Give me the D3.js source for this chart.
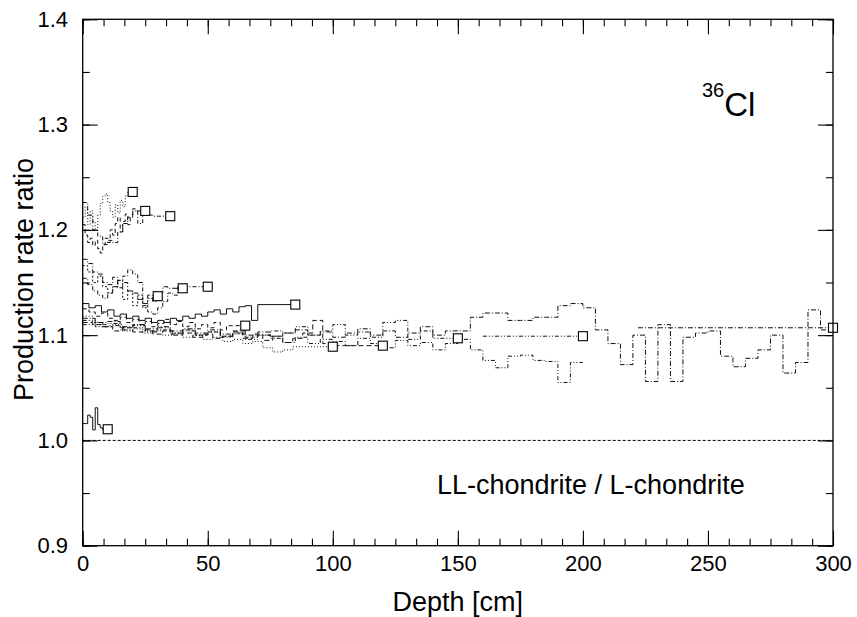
<!DOCTYPE html>
<html>
<head>
<meta charset="utf-8">
<script src="https://cdnjs.cloudflare.com/ajax/libs/d3/7.8.5/d3.min.js"></script>
<style>
  body { margin: 0; background: #fff; }
  text { font-family: "Liberation Sans", Arial, Helvetica, sans-serif; fill: #000; }
</style>
</head>
<body>
<div id="chart"></div>
<script>
var width = 857, height = 617;

// x axis ticks (depth, cm) and y axis ticks (ratio)
var depthTicks = [0, 50, 100, 150, 200, 250, 300];
var ratioTicks = [0.9, 1.0, 1.1, 1.2, 1.3, 1.4];

// one curve per meteoroid radius; marker sits at depth = radius
var radii      = [10, 20, 25, 30, 35, 40, 50, 65, 85, 100, 120, 150, 200, 300];
var binWidth   = [1, 1, 1, 2, 2, 2, 2, 2.5, 2.5, 4, 4, 5, 5, 5];
var markRatio  = [1.0106, 1.236, 1.218, 1.137, 1.213, 1.1445, 1.146, 1.109, 1.129, 1.089, 1.090, 1.097, 1.099, 1.107];
var tailStart  = [null, null, null, null, 28, 34, 40, 60, 70, 88, 100, 140, 160, 222];

var vals10  = [1.016, 1.016, 1.024, 1.022, 1.010, 1.031, 1.015, 1.012, 1.010, 1.010];
var vals20  = [1.212, 1.222, 1.205, 1.218, 1.208, 1.200, 1.214, 1.225, 1.232, 1.234, 1.226, 1.218, 1.212, 1.224, 1.216, 1.228, 1.222, 1.232, 1.236, 1.236];
var vals25  = [1.205, 1.195, 1.188, 1.192, 1.185, 1.190, 1.182, 1.178, 1.186, 1.192, 1.188, 1.200, 1.195, 1.206, 1.212, 1.198, 1.208, 1.215, 1.205, 1.212, 1.220, 1.218, 1.218, 1.218, 1.218];
var vals30  = [1.166, 1.160, 1.150, 1.156, 1.146, 1.140, 1.146, 1.152, 1.134, 1.142, 1.128, 1.138, 1.126, 1.135, 1.137];
var vals35  = [1.226, 1.214, 1.200, 1.194, 1.186, 1.190, 1.188, 1.198, 1.206, 1.212, 1.218, 1.206, 1.220, 1.214];
var vals40  = [1.172, 1.168, 1.160, 1.158, 1.150, 1.148, 1.155, 1.145, 1.150, 1.142, 1.140, 1.134, 1.130, 1.138, 1.132, 1.140, 1.146];
var vals50  = [1.154, 1.148, 1.142, 1.138, 1.135, 1.140, 1.146, 1.152, 1.156, 1.162, 1.158, 1.150, 1.128, 1.122, 1.120, 1.126, 1.132, 1.140, 1.138, 1.146];
var vals65  = [1.125, 1.122, 1.118, 1.121, 1.116, 1.114, 1.117, 1.112, 1.115, 1.110, 1.113, 1.108, 1.111, 1.115, 1.110, 1.113, 1.108, 1.112, 1.106, 1.110, 1.107, 1.112, 1.105, 1.109];
var vals85  = [1.130, 1.126, 1.128, 1.122, 1.124, 1.118, 1.120, 1.116, 1.118, 1.114, 1.116, 1.112, 1.114, 1.112, 1.116, 1.114, 1.118, 1.116, 1.120, 1.118, 1.122, 1.124, 1.120, 1.125, 1.122, 1.127, 1.128, 1.114];
var vals100 = [1.118, 1.112, 1.108, 1.110, 1.104, 1.106, 1.102, 1.104, 1.100, 1.102, 1.098, 1.100, 1.096, 1.098, 1.094, 1.096, 1.092, 1.094, 1.088, 1.084, 1.086, 1.089];
var vals120 = [1.112, 1.110, 1.108, 1.104, 1.107, 1.103, 1.105, 1.101, 1.104, 1.100, 1.102, 1.098, 1.101, 1.097, 1.099, 1.103, 1.097, 1.101, 1.095, 1.099, 1.093, 1.097, 1.102, 1.114, 1.092];
var vals150 = [1.110, 1.108, 1.109, 1.105, 1.107, 1.103, 1.105, 1.101, 1.104, 1.100, 1.103, 1.099, 1.102, 1.098, 1.100, 1.104, 1.102, 1.108, 1.100, 1.104, 1.110, 1.100, 1.103, 1.098, 1.112, 1.114, 1.096, 1.104];
var vals200 = [1.114, 1.110, 1.111, 1.107, 1.109, 1.104, 1.107, 1.102, 1.105, 1.100, 1.103, 1.098, 1.101, 1.096, 1.100, 1.097,
               1.093, 1.098, 1.092, 1.096, 1.094, 1.090, 1.097, 1.092, 1.088, 1.095, 1.090, 1.093, 1.086, 1.092, 1.096,
               1.086, 1.076, 1.069, 1.080, 1.081, 1.076, 1.075, 1.055, 1.074];
var vals300 = [1.116, 1.112, 1.113, 1.108, 1.110, 1.106, 1.108, 1.104, 1.106, 1.102, 1.105, 1.101, 1.104, 1.100, 1.103,
               1.099, 1.102, 1.105, 1.100, 1.103, 1.098, 1.102, 1.106, 1.100, 1.104, 1.098, 1.102, 1.108, 1.100, 1.104,
               1.104, 1.117, 1.121, 1.121, 1.114, 1.114, 1.117, 1.117, 1.128, 1.130, 1.126,
               1.105, 1.092, 1.072, 1.100, 1.056, 1.110, 1.056, 1.098, 1.102, 1.104, 1.080, 1.070, 1.078, 1.086,
               1.100, 1.064, 1.074, 1.124, 1.105];
var curveVals = [vals10, vals20, vals25, vals30, vals35, vals40, vals50, vals65, vals85, vals100, vals120, vals150, vals200, vals300];

var dashes = ["none", "1,2", "4,3", "2,2", "4,2,1,2", "5,2,1,2", "4,2,1,2", "4,3", "none", "1,2", "5,3", "4,2,1,2,1,2", "4,2,1,2,1,2", "5,2,1,2"];

var padL = 82.7, padR = 833, padT = 19.3, padB = 545.7;

var svg = d3.select('#chart')
    .append('svg')
    .attr('width', width)
    .attr('height', height);

svg.append('rect').attr('width', width).attr('height', height).attr('fill', '#fff');

var x = d3.scaleLinear().domain([0, 300]).range([padL, padR]);
var y = d3.scaleLinear().domain([0.9, 1.4]).range([padB, padT]);

var series = radii.map(function(r, i){
  return {R: r, w: binWidth[i], mark: markRatio[i], tail: tailStart[i], vals: curveVals[i], dash: dashes[i]};
});

// reference line at ratio 1
svg.append('line')
    .attr('x1', x(0)).attr('x2', x(300))
    .attr('y1', y(1.0)).attr('y2', y(1.0))
    .attr('stroke', '#000')
    .attr('stroke-width', 1)
    .attr('stroke-dasharray', '3,2');

var line = d3.line()
    .x(function(d){ return x(d[0]); })
    .y(function(d){ return y(d[1]); });

function stepPoints(s){
  var p = [];
  s.vals.forEach(function(v, i){
    p.push([i * s.w, v], [(i + 1) * s.w, v]);
  });
  var end = s.vals.length * s.w;
  if (s.tail == null || Math.abs(s.tail - end) < 1e-6) {
    p.push([end, s.mark], [s.R, s.mark]);
  }
  return p;
}

var g = svg.append('g');

series.forEach(function(s){
  g.append('path')
    .attr('d', line(stepPoints(s)))
    .attr('fill', 'none')
    .attr('stroke', '#111')
    .attr('stroke-width', 1)
    .attr('stroke-dasharray', s.dash);
  var end = s.vals.length * s.w;
  if (s.tail != null && Math.abs(s.tail - end) > 1e-6) {
    // connecting segment that overlaps the histogram
    g.append('path')
      .attr('d', line([[s.tail, s.mark], [s.R, s.mark]]))
      .attr('fill', 'none')
      .attr('stroke', '#111')
      .attr('stroke-width', 1)
      .attr('stroke-dasharray', s.dash);
  }
});

g.selectAll('rect.mark')
    .data(series)
    .enter()
    .append('rect')
    .attr('class', 'mark')
    .attr('x', function(d){ return x(d.R) - 4.5; })
    .attr('y', function(d){ return y(d.mark) - 4.5; })
    .attr('width', 9)
    .attr('height', 9)
    .attr('fill', '#fff')
    .attr('stroke', '#000')
    .attr('stroke-width', 1.1);

// frame
svg.append('rect')
    .attr('x', padL).attr('y', padT)
    .attr('width', padR - padL).attr('height', padB - padT)
    .attr('fill', 'none')
    .attr('stroke', '#000')
    .attr('stroke-width', 1.3);

var minorX = d3.range(0, 300.01, 50 / 6);
var minorY = d3.range(0.9, 1.4001, 0.05);

function addAxis(axis, tx, ty, labels){
  var a = svg.append('g')
    .attr('transform', 'translate(' + tx + ',' + ty + ')')
    .call(axis);
  a.select('.domain').remove();
  a.selectAll('line').attr('stroke', '#000').attr('stroke-width', 1.1);
  a.selectAll('text').style('font-size', '22px').attr('fill', '#000');
  if (!labels) a.selectAll('text').remove();
  return a;
}

addAxis(d3.axisBottom(x).tickValues(minorX).tickSize(-7).tickFormat(''), 0, padB, false);
addAxis(d3.axisBottom(x).tickValues(depthTicks).tickSize(-15).tickPadding(10).tickFormat(d3.format('d')), 0, padB, true);
addAxis(d3.axisTop(x).tickValues(minorX).tickSize(-7).tickFormat(''), 0, padT, false);
addAxis(d3.axisTop(x).tickValues(depthTicks).tickSize(-15).tickFormat(''), 0, padT, false);

addAxis(d3.axisLeft(y).tickValues(minorY).tickSize(-7).tickFormat(''), padL, 0, false);
addAxis(d3.axisLeft(y).tickValues(ratioTicks).tickSize(-15).tickPadding(14.7).tickFormat(d3.format('.1f')), padL, 0, true);
addAxis(d3.axisRight(y).tickValues(minorY).tickSize(-7).tickFormat(''), padR, 0, false);
addAxis(d3.axisRight(y).tickValues(ratioTicks).tickSize(-15).tickFormat(''), padR, 0, false);

// titles
svg.append('text')
    .attr('x', (padL + padR) / 2)
    .attr('y', 611)
    .attr('text-anchor', 'middle')
    .style('font-size', '27px')
    .text('Depth [cm]');

svg.append('text')
    .attr('transform', 'translate(33,' + ((padT + padB) / 2 - 3) + ') rotate(-90)')
    .attr('text-anchor', 'middle')
    .style('font-size', '27px')
    .text('Production rate ratio');

svg.append('text')
    .attr('x', 437)
    .attr('y', 494)
    .style('font-size', '27px')
    .text('LL-chondrite / L-chondrite');

var iso = svg.append('text').attr('x', 702).attr('y', 116);
iso.append('tspan').attr('dy', -19).style('font-size', '20px').text('36');
iso.append('tspan').attr('dy', 19).style('font-size', '33px').text('Cl');
</script>
</body>
</html>
